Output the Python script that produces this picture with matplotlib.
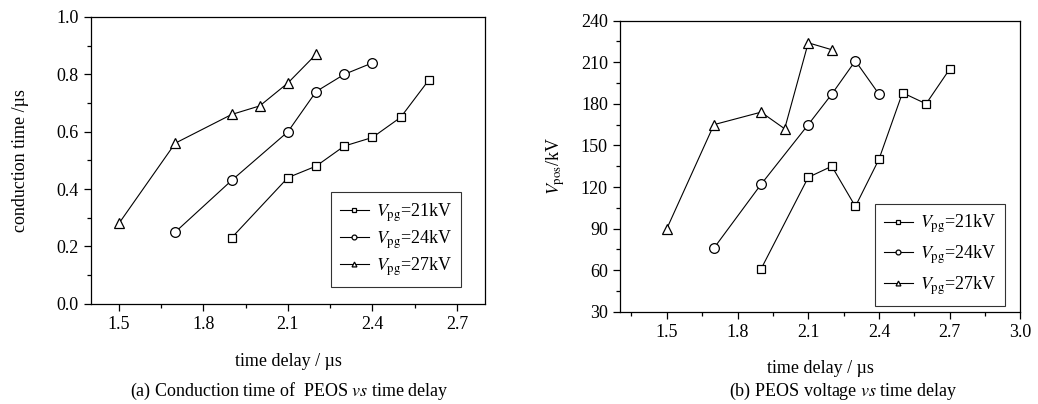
import matplotlib
matplotlib.use('Agg')
import matplotlib.pyplot as plt
from matplotlib.ticker import MultipleLocator

plt.rcParams['font.family'] = 'serif'
plt.rcParams['font.serif'] = ['Liberation Serif']
plt.rcParams['mathtext.fontset'] = 'stix'

# (a) conduction time vs time delay
a_x21 = [1.9, 2.1, 2.2, 2.3, 2.4, 2.5, 2.6]
a_y21 = [0.23, 0.44, 0.48, 0.55, 0.58, 0.65, 0.78]
a_x24 = [1.7, 1.9, 2.1, 2.2, 2.3, 2.4]
a_y24 = [0.25, 0.43, 0.60, 0.74, 0.80, 0.84]
a_x27 = [1.5, 1.7, 1.9, 2.0, 2.1, 2.2]
a_y27 = [0.28, 0.56, 0.66, 0.69, 0.77, 0.87]

# (b) PEOS voltage vs time delay
b_x21 = [1.9, 2.1, 2.2, 2.3, 2.4, 2.5, 2.6, 2.7]
b_y21 = [61, 127, 135, 106, 140, 188, 180, 205]
b_x24 = [1.7, 1.9, 2.1, 2.2, 2.3, 2.4]
b_y24 = [76, 122, 165, 187, 211, 187]
b_x27 = [1.5, 1.7, 1.9, 2.0, 2.1, 2.2]
b_y27 = [90, 165, 174, 162, 224, 219]

labels = [r'$V_{\rm pg}$=21kV', r'$V_{\rm pg}$=24kV', r'$V_{\rm pg}$=27kV']
markers = ['s', 'o', '^']
FS = 13

fig = plt.figure(figsize=(10.38, 4.04), dpi=100)
ax1 = fig.add_axes([0.0874, 0.248, 0.380, 0.710])
ax2 = fig.add_axes([0.597, 0.228, 0.386, 0.721])

def draw(ax, data, anchor, spacing):
    for (x, y), m, lab in zip(data, markers, labels):
        ax.plot(x, y, color='black', lw=0.8, marker=m, ms=7 if m != 's' else 6,
                mfc='white', mec='black', mew=0.9, label=lab)
    ax.tick_params(which='both', direction='out', labelsize=FS, width=0.9)
    ax.tick_params(which='major', length=5)
    ax.tick_params(which='minor', length=3)
    for s in ax.spines.values():
        s.set_linewidth(0.9)
    leg = ax.legend(loc='lower right', bbox_to_anchor=anchor, borderaxespad=0,
                    fontsize=FS, frameon=True, fancybox=False,
                    edgecolor='black', handlelength=1.6, handletextpad=0.4,
                    borderpad=0.5, labelspacing=spacing, markerscale=0.5)
    leg.get_frame().set_linewidth(0.8)

draw(ax1, [(a_x21, a_y21), (a_x24, a_y24), (a_x27, a_y27)], (0.939, 0.059), 0.25)
ax1.set_xlim(1.4, 2.8)
ax1.set_ylim(0.0, 1.0)
ax1.xaxis.set_major_locator(MultipleLocator(0.3))
ax1.xaxis.set_minor_locator(MultipleLocator(0.15))
ax1.yaxis.set_major_locator(MultipleLocator(0.2))
ax1.yaxis.set_minor_locator(MultipleLocator(0.1))
ax1.xaxis.set_major_formatter(plt.FormatStrFormatter('%.1f'))
ax1.yaxis.set_major_formatter(plt.FormatStrFormatter('%.1f'))
ax1.set_xlabel('time delay / µs', fontsize=FS, labelpad=15)
ax1.set_ylabel('conduction time /µs', fontsize=FS, labelpad=20)

draw(ax2, [(b_x21, b_y21), (b_x24, b_y24), (b_x27, b_y27)], (0.9625, 0.021), 0.45)
ax2.set_xlim(1.3, 3.0)
ax2.set_ylim(30, 240)
ax2.xaxis.set_major_locator(MultipleLocator(0.3))
ax2.xaxis.set_minor_locator(MultipleLocator(0.15))
ax2.yaxis.set_major_locator(MultipleLocator(30))
ax2.yaxis.set_minor_locator(MultipleLocator(15))
ax2.xaxis.set_major_formatter(plt.FormatStrFormatter('%.1f'))
ax2.set_xlabel('time delay / µs', fontsize=FS, labelpad=14)
ax2.set_ylabel(r'$V_{\rm pos}$/kV', fontsize=FS, labelpad=10)

fig.text(0.279, 0.02, '(a) Conduction time of  PEOS $vs$ time delay', ha='center', fontsize=FS)
fig.text(0.812, 0.02, '(b) PEOS voltage $vs$ time delay', ha='center', fontsize=FS)

fig.savefig('out.png', dpi=100)
